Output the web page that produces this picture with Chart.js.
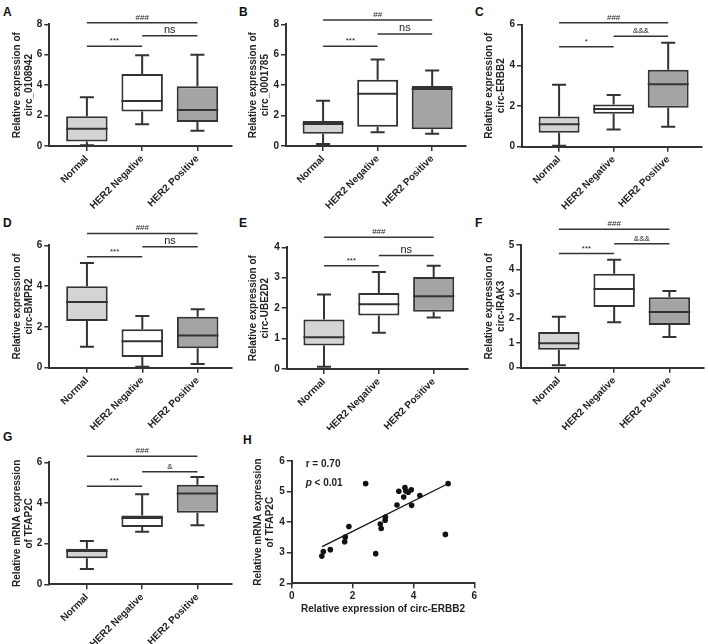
<!DOCTYPE html>
<html>
<head>
<meta charset="utf-8">
<script src="https://cdn.jsdelivr.net/npm/chart.js@4.4.1/dist/chart.umd.min.js"></script>
<style>
  body { margin: 0; background: #fff; width: 708px; height: 644px; position: relative; overflow: hidden; }
  canvas { position: absolute; }
  .tag { position: absolute; font: bold 12px "Liberation Sans", Arial, sans-serif; color: #111; line-height: 12px; }
</style>
</head>
<body>
<div class="tag" style="left:3px;top:6px">A</div>
<div class="tag" style="left:239px;top:6px">B</div>
<div class="tag" style="left:475px;top:6px">C</div>
<div class="tag" style="left:3px;top:217px">D</div>
<div class="tag" style="left:239px;top:217px">E</div>
<div class="tag" style="left:475px;top:217px">F</div>
<div class="tag" style="left:3px;top:431px">G</div>
<div class="tag" style="left:243px;top:434px">H</div>

<canvas id="cA" width="236" height="215" style="left:0;top:0"></canvas>
<canvas id="cB" width="236" height="215" style="left:236px;top:0"></canvas>
<canvas id="cC" width="236" height="215" style="left:472px;top:0"></canvas>
<canvas id="cD" width="236" height="225" style="left:0;top:205px"></canvas>
<canvas id="cE" width="236" height="225" style="left:236px;top:205px"></canvas>
<canvas id="cF" width="236" height="225" style="left:472px;top:205px"></canvas>
<canvas id="cG" width="236" height="229" style="left:0;top:415px"></canvas>
<canvas id="cH" width="260" height="229" style="left:236px;top:415px"></canvas>

<script>
const groups = ['Normal', 'HER2 Negative', 'HER2 Positive'];

// box stats per group: [min, q1, median, q3, max]
const boxA = [[0.05, 0.29, 1.14, 1.95, 3.2], [1.43, 2.26, 2.96, 4.74, 5.96], [1.0, 1.58, 2.37, 3.93, 6.0]];
const boxB = [[0.13, 0.81, 1.45, 1.64, 2.98], [0.9, 1.27, 3.44, 4.36, 5.68], [0.81, 1.1, 3.75, 3.95, 4.96]];
const boxC = [[0.05, 0.69, 1.11, 1.48, 3.05], [0.84, 1.62, 1.85, 2.08, 2.54], [0.98, 1.92, 3.07, 3.79, 5.11]];
const boxD = [[1.03, 2.29, 3.22, 3.99, 5.13], [0.05, 0.52, 1.3, 1.88, 2.53], [0.18, 0.95, 1.58, 2.5, 2.86]];
const boxE = [[0.07, 0.77, 1.04, 1.63, 2.45], [1.19, 1.76, 2.13, 2.5, 3.19], [1.69, 1.88, 2.39, 3.02, 3.39]];
const boxF = [[0.1, 0.73, 1.0, 1.45, 2.08], [1.85, 2.47, 3.21, 3.83, 4.4], [1.25, 1.74, 2.27, 2.87, 3.13]];
const boxG = [[0.75, 1.28, 1.64, 1.75, 2.13], [2.59, 2.82, 3.26, 3.38, 4.43], [2.9, 3.52, 4.46, 4.9, 5.28]];

// significance brackets: [label, from group, to group, level]
const sigA = [['***', 0, 1, 6.55], ['ns', 1, 2, 7.24], ['###', 0, 2, 8.1]];
const sigB = [['***', 0, 1, 6.56], ['ns', 1, 2, 7.37], ['##', 0, 2, 8.29]];
const sigC = [['*', 0, 1, 4.92], ['&&&', 1, 2, 5.43], ['###', 0, 2, 6.1]];
const sigD = [['***', 0, 1, 5.44], ['ns', 1, 2, 5.93], ['###', 0, 2, 6.58]];
const sigE = [['***', 0, 1, 3.39], ['ns', 1, 2, 3.73], ['###', 0, 2, 4.33]];
const sigF = [['***', 0, 1, 4.65], ['&&&', 1, 2, 5.05], ['###', 0, 2, 5.64]];
const sigG = [['***', 0, 1, 4.82], ['&', 1, 2, 5.54], ['###', 0, 2, 6.3]];

// panel H scatter
const erbb2 = [0.99, 1.04, 1.27, 1.74, 1.76, 1.88, 2.43, 2.76, 2.91, 2.94, 3.07, 3.08, 3.46, 3.52, 3.68, 3.72, 3.75, 3.83, 3.93, 3.94, 4.21, 5.05, 5.14];
const tfap2c = [2.89, 3.04, 3.10, 3.36, 3.51, 3.86, 5.26, 2.97, 3.94, 3.79, 4.06, 4.17, 4.56, 5.01, 4.82, 5.13, 5.02, 4.98, 5.06, 4.55, 4.87, 3.60, 5.26];
const fitX = [1.0, 5.1];
const fitY = [3.2, 5.24];

const ink = '#333333';
const fills = ['#d4d4d4', '#ffffff', '#a4a4a4'];
const FONT = '"Liberation Sans", Arial, sans-serif';
Chart.defaults.font.family = FONT;
Chart.defaults.color = '#222';

function boxExtras(box, sig) {
  return {
    id: 'boxExtras',
    afterDatasetsDraw(chart) {
      const ctx = chart.ctx, y = chart.scales.y;
      const bars = chart.getDatasetMeta(0).data;
      ctx.save();
      ctx.strokeStyle = ink;
      ctx.lineWidth = 2;
      box.forEach((b, i) => {
        const cx = bars[i].x, hw = bars[i].width / 2;
        const yMin = y.getPixelForValue(b[0]), yQ1 = y.getPixelForValue(b[1]);
        const yMed = y.getPixelForValue(b[2]), yQ3 = y.getPixelForValue(b[3]);
        const yMax = y.getPixelForValue(b[4]);
        ctx.beginPath();
        ctx.moveTo(cx, yQ3); ctx.lineTo(cx, yMax);
        ctx.moveTo(cx - 7, yMax); ctx.lineTo(cx + 7, yMax);
        ctx.moveTo(cx, yQ1); ctx.lineTo(cx, yMin);
        ctx.moveTo(cx - 7, yMin); ctx.lineTo(cx + 7, yMin);
        ctx.moveTo(cx - hw, yMed); ctx.lineTo(cx + hw, yMed);
        ctx.stroke();
      });
      ctx.lineWidth = 1.5;
      ctx.fillStyle = '#222';
      ctx.textAlign = 'center';
      ctx.textBaseline = 'alphabetic';
      sig.forEach(([label, a, b, level]) => {
        const x1 = bars[a].x, x2 = bars[b].x, py = y.getPixelForValue(level);
        ctx.beginPath();
        ctx.moveTo(x1, py); ctx.lineTo(x2, py);
        ctx.stroke();
        ctx.font = label === 'ns' ? '11px ' + FONT : '8px ' + FONT;
        ctx.fillText(label, (x1 + x2) / 2, py - 3);
      });
      ctx.restore();
    }
  };
}

function axisStyle() {
  return {
    grid: { display: true, drawOnChartArea: false, offset: false, tickLength: 5, color: ink, lineWidth: 1.5 },
    border: { display: true, color: ink, width: 2 }
  };
}

function boxChart(id, box, sig, yMax, step, title, area) {
  const cv = document.getElementById(id);
  const W = cv.width, H = cv.height;
  const [aL, aT, aR, aB] = area;
  new Chart(cv, {
    type: 'bar',
    data: {
      datasets: [{
        data: box.map((b, i) => ({ x: i, y: [b[1], b[3]] })),
        backgroundColor: fills,
        borderColor: ink,
        borderWidth: 2,
        borderSkipped: false,
        barPercentage: 0.75,
        categoryPercentage: 1
      }]
    },
    options: {
      responsive: false,
      animation: false,
      layout: { padding: { top: aT, right: W - aR, left: 0, bottom: 0 } },
      plugins: { legend: { display: false }, tooltip: { enabled: false } },
      scales: {
        x: Object.assign(axisStyle(), {
          type: 'linear', min: -0.68, max: 2.62, offset: false,
          afterBuildTicks: s => { s.ticks = groups.map((g, i) => ({ value: i })); },
          afterFit: s => { s.height = H - aB; },
          ticks: {
            callback: v => groups[v], autoSkip: false, minRotation: 45, maxRotation: 45,
            color: '#222', padding: 2, font: { size: 10, weight: 'bold' }
          }
        }),
        y: Object.assign(axisStyle(), {
          min: 0, max: yMax,
          afterFit: s => { s.width = aL; },
          ticks: { stepSize: step, color: '#222', padding: 2, font: { size: 10, weight: 'bold' } },
          title: { display: true, text: title, color: '#222', font: { size: 10, weight: 'bold' }, padding: { top: 11, bottom: 0 } }
        })
      }
    },
    plugins: [boxExtras(box, sig)]
  });
}

const t1 = 'Relative expression of';
boxChart('cA', boxA, sigA, 8, 2, [t1, 'circ_0108942'], [49.3, 24.3, 231.7, 146]);
boxChart('cB', boxB, sigB, 8, 2, [t1, 'circ_0001785'], [50, 24.3, 230, 146]);
boxChart('cC', boxC, sigC, 6, 2, [t1, 'circ-ERBB2'], [50, 24.7, 230, 146.7]);
boxChart('cD', boxD, sigD, 6, 2, [t1, 'circ-BMPR2'], [49.3, 40.3, 232, 162.7]);
boxChart('cE', boxE, sigE, 4, 1, [t1, 'circ-UBE2D2'], [50.7, 42.3, 231.7, 164]);
boxChart('cF', boxF, sigF, 5, 1, [t1, 'circ-IRAK3'], [49.3, 40, 231.7, 162.7]);
boxChart('cG', boxG, sigG, 6, 2, ['Relative mRNA expression', 'of TFAP2C'], [49.3, 47.3, 231.7, 169.3]);

// panel H
const statText = {
  id: 'statText',
  afterDraw(chart) {
    const ctx = chart.ctx, a = chart.chartArea;
    ctx.save();
    ctx.fillStyle = '#222';
    ctx.textBaseline = 'middle';
    ctx.font = 'bold 10px ' + FONT;
    ctx.fillText('r = 0.70', a.left + 14, a.top + 3);
    ctx.font = 'italic bold 10px ' + FONT;
    ctx.fillText('p', a.left + 14, a.top + 22);
    const w = ctx.measureText('p').width;
    ctx.font = 'bold 10px ' + FONT;
    ctx.fillText(' < 0.01', a.left + 14 + w, a.top + 22);
    ctx.restore();
  }
};

(function () {
  const cv = document.getElementById('cH');
  const W = cv.width, H = cv.height;
  const aL = 55.7, aT = 46, aR = 238.3, aB = 168.3;
  new Chart(cv, {
    type: 'scatter',
    data: {
      datasets: [{
        data: erbb2.map((v, i) => ({ x: v, y: tfap2c[i] })),
        backgroundColor: '#111', borderColor: '#111', pointRadius: 2.8, pointBorderWidth: 0
      }, {
        type: 'line',
        data: fitX.map((v, i) => ({ x: v, y: fitY[i] })),
        borderColor: '#111', borderWidth: 1.3, pointRadius: 0, fill: false
      }]
    },
    options: {
      responsive: false,
      animation: false,
      layout: { padding: { top: aT, right: W - aR, left: 0, bottom: 0 } },
      plugins: { legend: { display: false }, tooltip: { enabled: false } },
      scales: {
        x: Object.assign(axisStyle(), {
          type: 'linear', min: 0, max: 6,
          afterFit: s => { s.height = H - aB; },
          ticks: { stepSize: 2, color: '#222', padding: 2, font: { size: 10, weight: 'bold' } },
          title: { display: true, text: 'Relative expression of circ-ERBB2', color: '#222', font: { size: 10, weight: 'bold' }, padding: { top: 0, bottom: 29 } }
        }),
        y: Object.assign(axisStyle(), {
          min: 2, max: 6,
          afterFit: s => { s.width = aL; },
          ticks: { stepSize: 1, color: '#222', padding: 2, font: { size: 10, weight: 'bold' } },
          title: { display: true, text: ['Relative mRNA expression', 'of TFAP2C'], color: '#222', font: { size: 10, weight: 'bold' }, padding: { top: 16.7, bottom: 0 } }
        })
      }
    },
    plugins: [statText]
  });
})();
</script>
</body>
</html>
